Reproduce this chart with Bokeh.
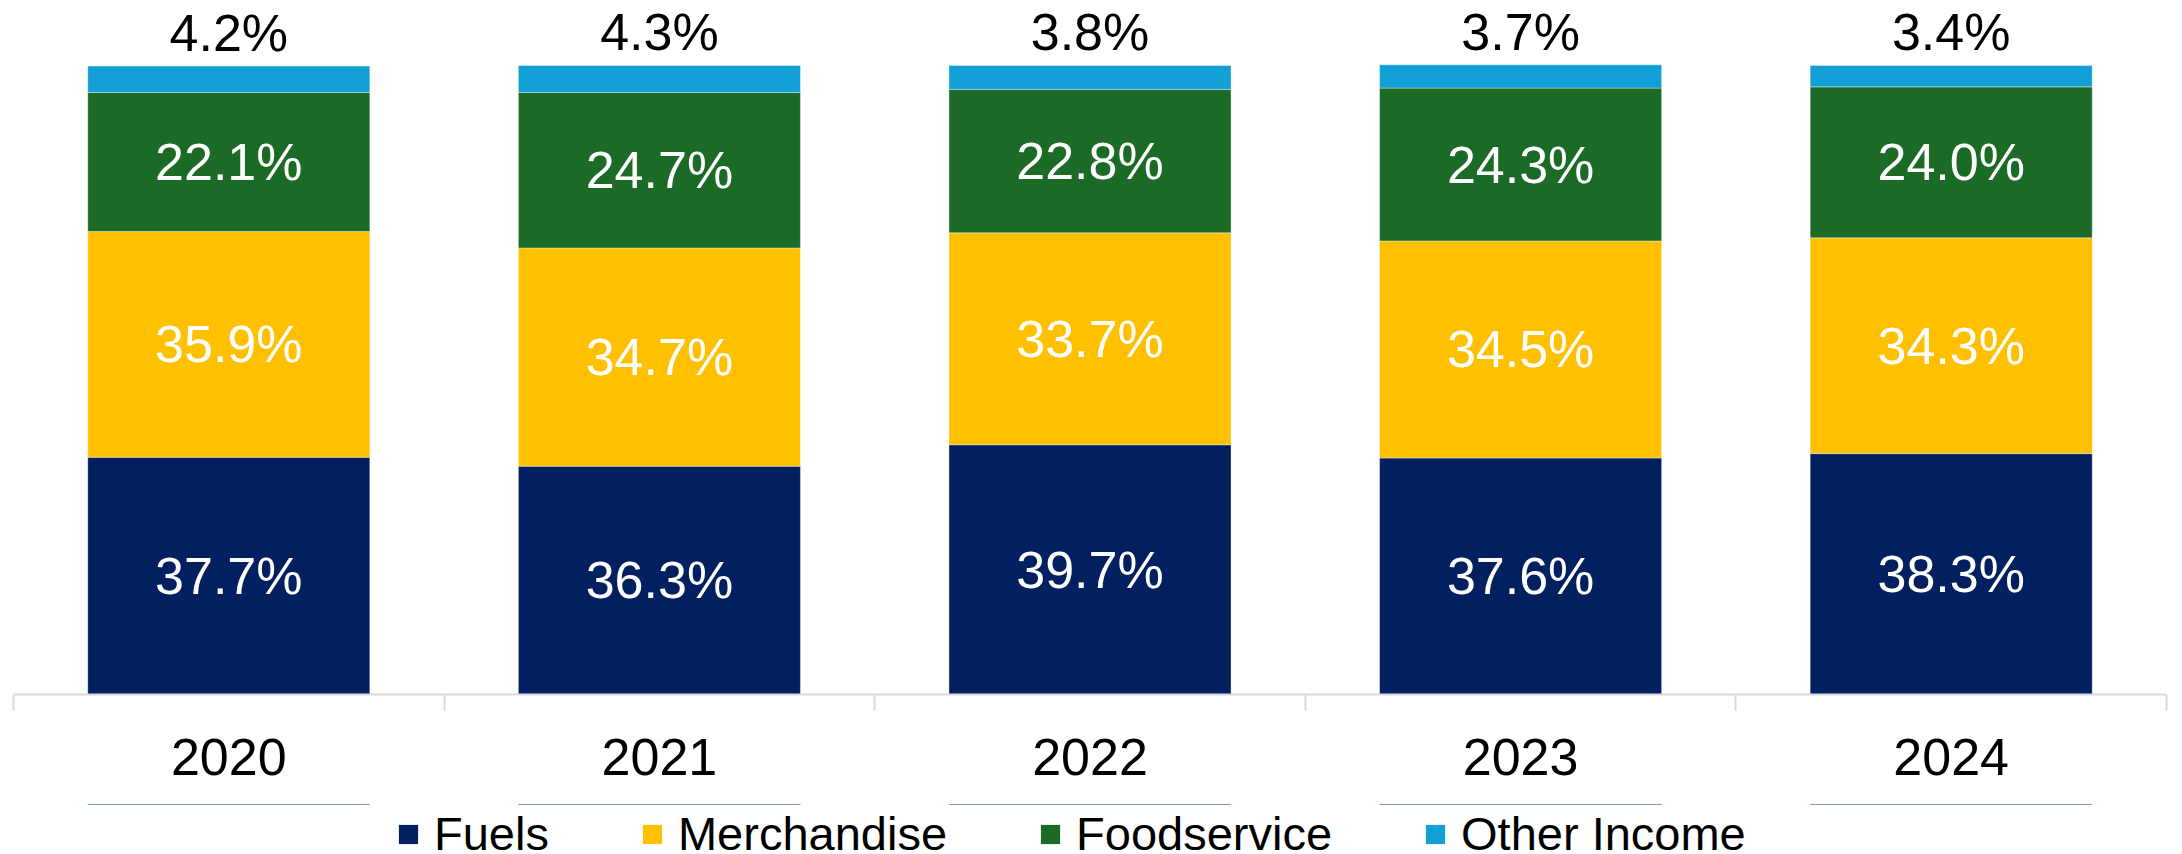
from bokeh.plotting import figure
from bokeh.layouts import column
from bokeh.models import (ColumnDataSource, Range1d, LinearAxis, FixedTicker,
                          Legend, LegendItem)
from bokeh.core.properties import value
from bokeh.embed import file_html
from bokeh.resources import INLINE

years = ["2020", "2021", "2022", "2023", "2024"]
series = ["Fuels", "Merchandise", "Foodservice", "Other Income"]
fuels = [37.7, 36.3, 39.7, 37.6, 38.3]
merchandise = [35.9, 34.7, 33.7, 34.5, 34.3]
foodservice = [22.1, 24.7, 22.8, 24.3, 24.0]
other_income = [4.2, 4.3, 3.8, 3.7, 3.4]
colors = ["#022060", "#FFC000", "#1B6A25", "#129FD6"]

FONT = "Liberation Sans"

n = len(years)
xc = [i + 0.5 for i in range(n)]  # category centres
edges = [float(i) for i in range(n + 1)]  # category boundaries
data = {"x": xc, "year": years, "Fuels": fuels, "Merchandise": merchandise,
        "Foodservice": foodservice, "Other Income": other_income}
source = ColumnDataSource(data)

p = figure(x_range=Range1d(0, n), y_range=Range1d(0, 110.33),
           width=2170, height=804, output_backend="svg", toolbar_location=None,
           x_axis_location=None, y_axis_location=None,
           min_border_left=13, min_border_right=4, min_border_top=0,
           min_border_bottom=110)
p.outline_line_color = None
p.xgrid.visible = False
p.ygrid.visible = False
p.background_fill_color = "white"

renderers = p.vbar_stack(series, x="x", width=0.655, source=source,
                         color=colors, line_color="white", line_width=0.6,
                         line_alpha=0.6)

# segment labels
vals = [fuels, merchandise, foodservice]
base = [0.0] * n
for vs in vals:
    mids = [b + v / 2 for b, v in zip(base, vs)]
    txt = [f"{v:.1f}%" for v in vs]
    p.text(x=xc, y=mids, text=txt, text_color="white",
           text_font=value(FONT), text_font_size="52px",
           text_align="center", text_baseline="middle")
    base = [b + v for b, v in zip(base, vs)]
tops = [b + v for b, v in zip(base, other_income)]
p.text(x=xc, y=tops, text=[f"{v:.1f}%" for v in other_income],
       text_color="black", text_font=value(FONT), text_font_size="52px",
       text_align="center", text_baseline="middle", y_offset=-33)

# x axis: labels at category centres, ticks at category boundaries
xaxis = LinearAxis(ticker=FixedTicker(ticks=xc, minor_ticks=edges),
                   major_label_overrides={c: y for c, y in zip(xc, years)},
                   axis_line_color="#D9D9D9", axis_line_width=2,
                   major_tick_line_color=None, major_tick_in=0, major_tick_out=0,
                   minor_tick_line_color="#D9D9D9", minor_tick_line_width=2,
                   minor_tick_in=0, minor_tick_out=16,
                   major_label_text_font=FONT,
                   major_label_text_font_size="52px",
                   major_label_text_color="black",
                   major_label_standoff=28)
p.add_layout(xaxis, "below")

# legend strip below the chart (its bars lie outside its visible range)
p2 = figure(x_range=Range1d(0, n), y_range=Range1d(-2, -1),
            width=2170, height=50, output_backend="svg", toolbar_location=None,
            x_axis_location=None, y_axis_location=None,
            min_border_left=0, min_border_right=0, min_border_top=0,
            min_border_bottom=0)
p2.outline_line_color = None
p2.xgrid.visible = False
p2.ygrid.visible = False
swatches = p2.vbar_stack(series, x="x", width=0.655, source=source,
                         fill_color=colors, line_color=None)

legend = Legend(items=[LegendItem(label=s, renderers=[r]) for s, r in zip(series, swatches)],
                orientation="horizontal", location=(383, -7),
                glyph_width=24, glyph_height=24, label_standoff=14, spacing=91,
                padding=0, margin=0, border_line_color=None,
                background_fill_alpha=0,
                label_text_font=FONT, label_text_font_size="47px",
                label_text_color="black")
p2.add_layout(legend, "center")

open("out.html", "w").write(file_html(column(p, p2), INLINE))
